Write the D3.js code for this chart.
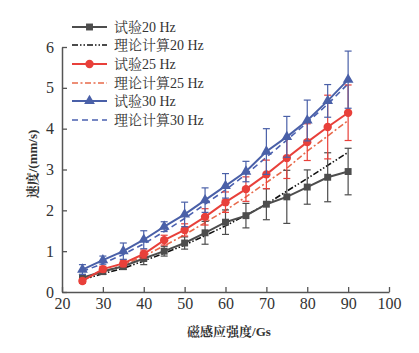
<!DOCTYPE html>
<html><head><meta charset="utf-8">
<script src="https://cdn.jsdelivr.net/npm/d3@7"></script>
<style>body{margin:0;background:#fff}svg{display:block}</style>
</head><body>
<script>
const B = [25,30,35,40,45,50,55,60,65,70,75,80,85,90];
const test20 = [0.35,0.5,0.63,0.82,1.0,1.2,1.45,1.71,1.87,2.15,2.33,2.57,2.81,2.95];
const err20  = [0.08,0.07,0.08,0.15,0.12,0.15,0.28,0.3,0.3,0.38,0.65,0.42,0.6,0.57];
const theo20 = [0.3,0.45,0.58,0.76,0.95,1.15,1.38,1.62,1.88,2.15,2.47,2.78,3.1,3.42];
const test25 = [0.27,0.56,0.7,0.93,1.27,1.52,1.84,2.2,2.52,2.88,3.28,3.67,4.04,4.39];
const err25  = [0.06,0.07,0.08,0.1,0.12,0.15,0.2,0.25,0.3,0.35,0.5,0.45,0.78,0.68];
const theo25 = [0.32,0.5,0.66,0.88,1.13,1.4,1.7,2.0,2.33,2.68,3.03,3.45,3.82,4.2];
const test30 = [0.55,0.78,1.0,1.28,1.6,1.9,2.25,2.6,2.95,3.44,3.8,4.2,4.68,5.2];
const err30  = [0.12,0.1,0.2,0.22,0.12,0.3,0.3,0.3,0.25,0.56,0.5,0.5,0.4,0.7];
const theo30 = [0.5,0.7,0.92,1.18,1.48,1.8,2.15,2.5,2.88,3.3,3.72,4.15,4.6,5.1];
const xTicks = [20,30,40,50,60,70,80,90,100];
const yTicks = [0,1,2,3,4,5,6];
const legendLabels = ["试验20 Hz","理论计算20 Hz","试验25 Hz","理论计算25 Hz","试验30 Hz","理论计算30 Hz"];

const W=419,H=353;
const svg=d3.select("body").append("svg").attr("width",W).attr("height",H);
const FONT='"Liberation Serif","Noto Serif CJK SC","Noto Sans CJK SC",serif';
const x=d3.scaleLinear().domain([20,100]).range([62,389]);
const y=d3.scaleLinear().domain([0,6]).range([292,47]);

const axC="#555";
const gx=svg.append("g").attr("transform","translate(0,292)")
  .call(d3.axisBottom(x).tickValues(xTicks).tickFormat(d3.format("d")).tickSizeInner(-5).tickSizeOuter(0).tickPadding(6));
const gy=svg.append("g").attr("transform","translate(62,0)")
  .call(d3.axisLeft(y).tickValues(yTicks).tickFormat(d3.format("d")).tickSizeInner(-5).tickSizeOuter(0).tickPadding(8));
[gx,gy].forEach(g=>{
  g.select(".domain").attr("stroke",axC).attr("stroke-width",1.5);
  g.selectAll(".tick line").attr("stroke",axC).attr("stroke-width",1.3);
  g.selectAll("text").attr("font-family",FONT).attr("font-size",16).attr("fill","#333");
});

svg.append("text").attr("x",229).attr("y",336).attr("text-anchor","middle")
  .attr("font-family",FONT).attr("font-size",13).attr("font-weight","bold").attr("fill","#333").text("磁感应强度/Gs");
svg.append("text").attr("transform","translate(37,164) rotate(-90)").attr("text-anchor","middle")
  .attr("font-family",FONT).attr("font-size",13).attr("font-weight","bold").attr("fill","#333").text("速度/(mm/s)");

const series=[
  {t:test20,e:err20,th:theo20,c:"#4d4d4d",tc:"#111",dash:"6,2,1.5,2,1.5,2",m:"square"},
  {t:test25,e:err25,th:theo25,c:"#e8403a",tc:"#e8694a",dash:"6,2.5,2,2.5",m:"circle"},
  {t:test30,e:err30,th:theo30,c:"#4a60a8",tc:"#4a60b0",dash:"6,4",m:"triangle"}
];
const line=d3.line().x(d=>x(d[0])).y(d=>y(d[1]));
const sym={square:d3.symbol(d3.symbolSquare,48),circle:d3.symbol(d3.symbolCircle,55),triangle:d3.symbol(d3.symbolTriangle,50)};

series.forEach(s=>{
  svg.append("path").attr("d",line(B.map((b,i)=>[b,s.th[i]]))).attr("fill","none")
    .attr("stroke",s.tc).attr("stroke-width",1.6).attr("stroke-dasharray",s.dash);
});
series.forEach(s=>{
  const g=svg.append("g");
  B.forEach((b,i)=>{
    const lo=y(s.t[i]-s.e[i]),hi=y(s.t[i]+s.e[i]),cx=x(b);
    g.append("line").attr("x1",cx).attr("x2",cx).attr("y1",lo).attr("y2",hi).attr("stroke",s.c).attr("stroke-width",1.2);
    [lo,hi].forEach(yy=>g.append("line").attr("x1",cx-3.5).attr("x2",cx+3.5).attr("y1",yy).attr("y2",yy).attr("stroke",s.c).attr("stroke-width",1.2));
  });
  g.append("path").attr("d",line(B.map((b,i)=>[b,s.t[i]]))).attr("fill","none").attr("stroke",s.c).attr("stroke-width",2);
  B.forEach((b,i)=>{
    g.append("path").attr("d",sym[s.m]()).attr("transform",`translate(${x(b)},${y(s.t[i])})`).attr("fill",s.c);
  });
});

// legend
const lg=svg.append("g");
const rowsY=[27,45,64,83,101,120];
legendLabels.forEach((lab,i)=>{
  const s=series[Math.floor(i/2)], yy=rowsY[i];
  if(i%2===0){
    lg.append("line").attr("x1",72).attr("x2",107).attr("y1",yy).attr("y2",yy).attr("stroke",s.c).attr("stroke-width",2);
    lg.append("path").attr("d",sym[s.m]()).attr("transform",`translate(89.5,${yy})`).attr("fill",s.c);
  } else {
    lg.append("line").attr("x1",72).attr("x2",107).attr("y1",yy).attr("y2",yy).attr("stroke",s.tc).attr("stroke-width",1.6).attr("stroke-dasharray",s.dash);
  }
  lg.append("text").attr("x",114).attr("y",yy+5).attr("font-family",FONT).attr("font-size",14).attr("fill","#333").text(lab);
});
</script>
</body></html>
